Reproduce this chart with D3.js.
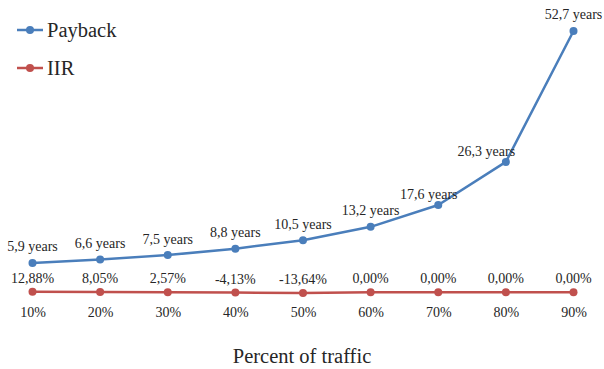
<!DOCTYPE html>
<html>
<head>
<meta charset="utf-8">
<script src="https://cdn.jsdelivr.net/npm/d3@7/dist/d3.min.js"></script>
</head>
<body style="margin:0;background:#fff">
<svg id="fig" width="604" height="369" style="display:block"></svg>
<script>
// Share of traffic scenarios
const categories = ["10%", "20%", "30%", "40%", "50%", "60%", "70%", "80%", "90%"];
// Payback period, years
const payback = [5.9, 6.6, 7.5, 8.8, 10.5, 13.2, 17.6, 26.3, 52.7];
const paybackLabels = ["5,9 years", "6,6 years", "7,5 years", "8,8 years", "10,5 years",
                       "13,2 years", "17,6 years", "26,3 years", "52,7 years"];
// Internal rate of return, as a fraction
const iir = [0.1288, 0.0805, 0.0257, -0.0413, -0.1364, 0, 0, 0, 0];
const iirLabels = ["12,88%", "8,05%", "2,57%", "-4,13%", "-13,64%", "0,00%", "0,00%", "0,00%", "0,00%"];
const seriesNames = ["Payback", "IIR"];
const axisTitle = "Percent of traffic";

const blue = "#4a7ebb";
const red = "#c0504d";
const ink = "#262626";

const svg = d3.select("#fig");

// Serif type for every label
function typeset(sel, size) {
  return sel
    .attr("fill", ink)
    .style("font-family", "'Liberation Serif', 'Times New Roman', serif", "important")
    .style("font-size", size + "px", "important");
}

const x = d3.scalePoint().domain(categories).range([32.5, 573.5]);
const y = d3.scaleLinear().domain([0, d3.max(payback)]).range([292.3, 31]);

const line = d3.line()
  .x((d, i) => x(categories[i]))
  .y(d => y(d));

function drawSeries(values, color) {
  svg.append("path")
    .datum(values)
    .attr("d", line)
    .attr("fill", "none")
    .attr("stroke", color)
    .attr("stroke-width", 2.5)
    .attr("stroke-linejoin", "round");
  svg.append("g").selectAll("circle")
    .data(values)
    .join("circle")
    .attr("cx", (d, i) => x(categories[i]))
    .attr("cy", d => y(d))
    .attr("r", 4)
    .attr("fill", color);
}

drawSeries(iir, red);
drawSeries(payback, blue);

// Category labels under the plot
const xAxis = d3.axisBottom(x).tickSize(0).tickPadding(0);
const gx = svg.append("g").attr("transform", "translate(0,305)").call(xAxis);
gx.attr("font-family", null).attr("font-size", null);
gx.select(".domain").remove();
typeset(gx.selectAll("text").attr("dy", null).attr("y", 11.5), 14);

// Data labels; two payback labels sit lower-left so they clear the steep segment
const nudge = { 6: [-9.5, 6], 7: [-19.5, 6] };
typeset(svg.append("g").selectAll("text")
  .data(payback)
  .join("text")
  .attr("x", (d, i) => x(categories[i]) + (nudge[i] ? nudge[i][0] : 0))
  .attr("y", (d, i) => y(d) - 11.6 + (nudge[i] ? nudge[i][1] : 0))
  .attr("text-anchor", "middle")
  .text((d, i) => paybackLabels[i]), 14);

typeset(svg.append("g").selectAll("text")
  .data(iir)
  .join("text")
  .attr("x", (d, i) => x(categories[i]))
  .attr("y", d => y(d) - 9)
  .attr("text-anchor", "middle")
  .text((d, i) => iirLabels[i]), 14);

// Legend
const legend = svg.append("g");
[blue, red].forEach((c, i) => {
  const ly = 30 + i * 38;
  legend.append("line")
    .attr("x1", 17).attr("x2", 43).attr("y1", ly).attr("y2", ly)
    .attr("stroke", c).attr("stroke-width", 2.5);
  legend.append("circle").attr("cx", 30).attr("cy", ly).attr("r", 4).attr("fill", c);
  typeset(legend.append("text")
    .attr("x", 47).attr("y", ly + 7)
    .text(seriesNames[i]), 20.5);
});

// Axis title
typeset(svg.append("text")
  .attr("x", 302).attr("y", 363)
  .attr("text-anchor", "middle")
  .text(axisTitle), 20.5);
</script>
</body>
</html>
